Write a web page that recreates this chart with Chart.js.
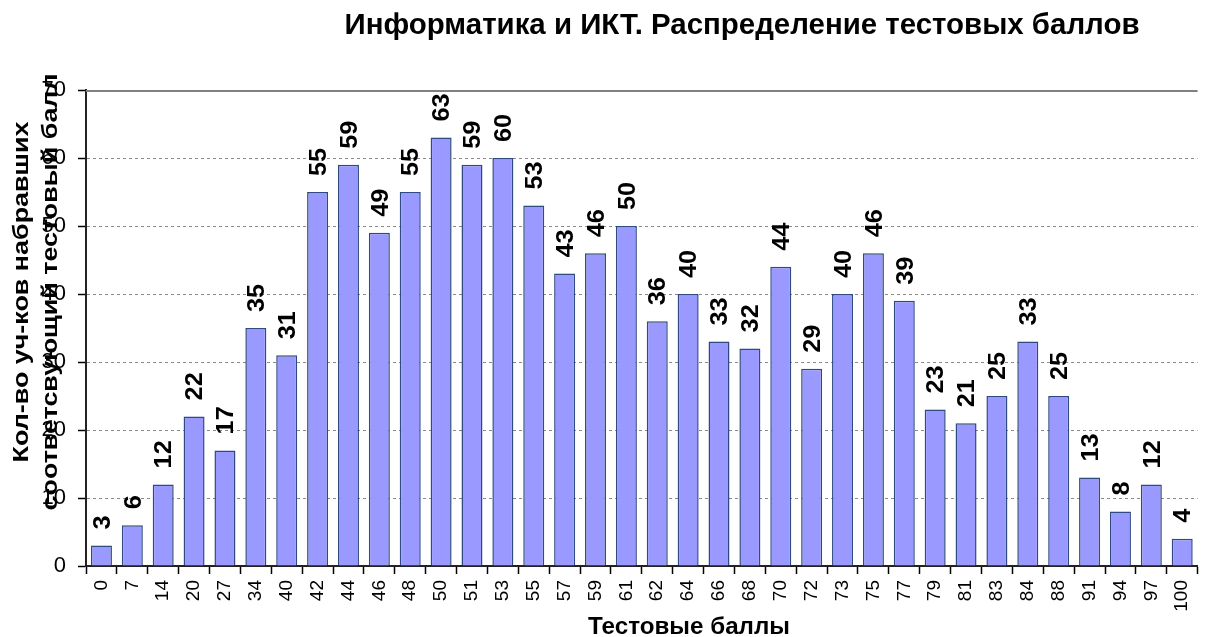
<!DOCTYPE html>
<html lang="ru">
<head>
<meta charset="utf-8">
<title>Информатика и ИКТ. Распределение тестовых баллов</title>
<script src="https://cdn.jsdelivr.net/npm/chart.js@4/dist/chart.umd.min.js"></script>
<style>
  html, body { margin: 0; padding: 0; background: #fff; overflow: hidden; }
  canvas { display: block; }
</style>
</head>
<body>
<canvas id="scoreChart" width="1211" height="637"></canvas>
<script>
const scoreLabels = ['0', '7', '14', '20', '27', '34', '40', '42', '44', '46', '48', '50', '51', '53', '55', '57', '59', '61',
  '62', '64', '66', '68', '70', '72', '73', '75', '77', '79', '81', '83', '84', '88', '91', '94', '97', '100'];
const studentCounts = [3, 6, 12, 22, 17, 35, 31, 55, 59, 49, 55, 63, 59, 60, 53, 43, 46, 50,
  36, 40, 33, 32, 44, 29, 40, 46, 39, 23, 21, 25, 33, 25, 13, 8, 12, 4];
const yTicks = [0, 10, 20, 30, 40, 50, 60, 70];

const chartTitle = 'Информатика и ИКТ. Распределение тестовых баллов';
const xTitle = 'Тестовые баллы';
const yTitleLines = ['Кол-во уч-ков набравших', 'соответсвующий тестовый балл'];

const FONT = '"Liberation Sans", Arial, sans-serif';

// draws text rotated (deg), stretched along its direction by `stretch`
// or fitted to `fitLen` when given
function drawText(ctx, text, x, y, { font, rotation = 0, align = 'left', stretch = 1, fitLen = null }) {
  ctx.save();
  ctx.font = font;
  ctx.fillStyle = '#000';
  ctx.textBaseline = 'alphabetic';
  ctx.textAlign = align;
  ctx.translate(x, y);
  ctx.rotate(rotation * Math.PI / 180);
  const k = fitLen ? fitLen / ctx.measureText(text).width : stretch;
  ctx.scale(k, 1);
  ctx.fillText(text, 0, 0);
  ctx.restore();
}

const decorations = {
  id: 'decorations',
  beforeDatasetsDraw(chart) {
    const { ctx, chartArea } = chart;
    ctx.save();
    ctx.strokeStyle = '#808080';
    ctx.lineWidth = 2;
    ctx.beginPath();
    ctx.moveTo(chartArea.left, chartArea.top + 1);
    ctx.lineTo(chartArea.right, chartArea.top + 1);
    ctx.stroke();
    ctx.restore();
  },
  afterDatasetsDraw(chart) {
    const { ctx } = chart;
    const size = 23;
    const capH = size * 0.716;
    chart.getDatasetMeta(0).data.forEach((bar, i) => {
      drawText(ctx, String(studentCounts[i]), bar.x + capH / 2, bar.y - 16, {
        font: `bold ${size}px ${FONT}`, rotation: -90, stretch: 1.1,
      });
    });
  },
  afterDraw(chart) {
    const { ctx } = chart;
    drawText(ctx, chartTitle, 742, 34, { font: `bold 30px ${FONT}`, align: 'center', fitLen: 795 });
    drawText(ctx, xTitle, 689, 634, { font: `bold 23px ${FONT}`, align: 'center', fitLen: 202 });
    drawText(ctx, yTitleLines[0], 28, 292, { font: `bold 22px ${FONT}`, rotation: -90, align: 'center', fitLen: 341 });
    drawText(ctx, yTitleLines[1], 57, 292, { font: `bold 22px ${FONT}`, rotation: -90, align: 'center', fitLen: 437 });
  },
};

new Chart(document.getElementById('scoreChart'), {
  type: 'bar',
  data: {
    labels: scoreLabels,
    datasets: [{
      data: studentCounts,
      backgroundColor: '#9999FF',
      borderColor: '#2E4A7E',
      borderWidth: 1.5,
      barPercentage: 0.68,
      categoryPercentage: 1,
    }],
  },
  options: {
    responsive: false,
    animation: false,
    layout: { padding: { top: 90, right: 0, bottom: 0, left: 0 } },
    plugins: {
      legend: { display: false },
      title: { display: false },
      tooltip: { enabled: false },
    },
    scales: {
      x: {
        afterFit: scale => { scale.height = 71; },
        grid: {
          offset: true,
          drawOnChartArea: false,
          drawTicks: true,
          tickLength: 8,
          tickColor: '#000',
          tickWidth: 1.5,
        },
        border: { color: '#222', width: 2 },
        ticks: {
          autoSkip: false,
          minRotation: 90,
          maxRotation: 90,
          padding: 6,
          color: '#000',
          font: { family: FONT, size: 19 },
        },
      },
      y: {
        min: 0,
        max: 70,
        afterFit: scale => { scale.width = 86; },
        afterBuildTicks: scale => { scale.ticks = yTicks.map(value => ({ value })); },
        grid: {
          color: ctx => (ctx.tick && (ctx.tick.value === 0 || ctx.tick.value === 70)) ? 'rgba(0,0,0,0)' : '#8a8a8a',
          lineWidth: 1,
          tickLength: 8,
          tickColor: '#000',
          tickWidth: 1.5,
          tickBorderDash: [],
        },
        border: { color: '#222', width: 2, dash: [3, 3] },
        ticks: {
          padding: 12,
          color: '#000',
          font: { family: FONT, size: 22 },
        },
      },
    },
  },
  plugins: [decorations],
});
</script>
</body>
</html>
